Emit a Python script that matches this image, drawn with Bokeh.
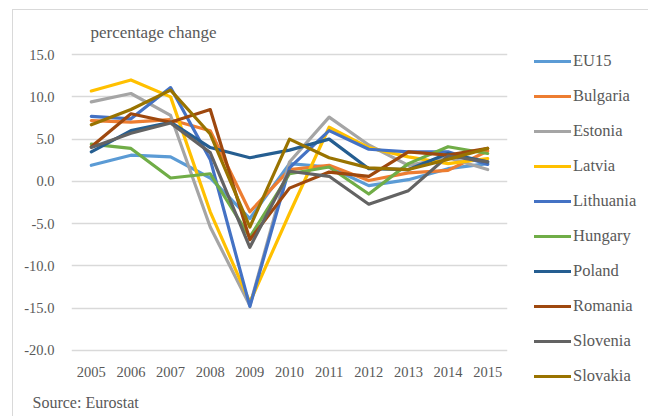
from bokeh.plotting import figure
from bokeh.models import Range1d, FixedTicker, NumeralTickFormatter, Legend, LegendItem, Title
from bokeh.embed import file_html
from bokeh.resources import INLINE

years = ["2005", "2006", "2007", "2008", "2009", "2010", "2011", "2012", "2013", "2014", "2015"]

eu15      = [1.9, 3.1, 2.9, 0.4, -4.4, 2.1, 1.7, -0.5, 0.2, 1.5, 2.1]
bulgaria  = [7.2, 7.0, 7.3, 6.0, -3.6, 1.4, 1.9, 0.1, 1.0, 1.3, 3.6]
estonia   = [9.4, 10.4, 7.8, -5.4, -14.7, 2.3, 7.6, 4.3, 1.9, 2.8, 1.4]
latvia    = [10.7, 12.0, 10.0, -3.6, -14.3, -3.8, 6.4, 4.0, 2.9, 2.1, 2.7]
lithuania = [7.7, 7.4, 11.1, 2.6, -14.8, 1.6, 6.0, 3.8, 3.5, 3.5, 2.0]
hungary   = [4.4, 3.9, 0.4, 0.9, -6.6, 0.9, 1.7, -1.5, 2.1, 4.1, 3.3]
poland    = [3.5, 6.0, 7.0, 4.0, 2.8, 3.7, 5.0, 1.5, 1.4, 3.3, 2.3]
romania   = [4.1, 8.0, 7.0, 8.5, -6.9, -0.8, 1.1, 0.6, 3.5, 3.1, 3.9]
slovenia  = [4.0, 5.7, 6.9, 3.4, -7.8, 1.2, 0.6, -2.7, -1.1, 3.0, 2.3]
slovakia  = [6.7, 8.5, 10.8, 5.6, -5.4, 5.0, 2.8, 1.6, 1.4, 2.6, 3.9]

series_names = ["EU15", "Bulgaria", "Estonia", "Latvia", "Lithuania", "Hungary",
                "Poland", "Romania", "Slovenia", "Slovakia"]
series_values = [eu15, bulgaria, estonia, latvia, lithuania, hungary,
                 poland, romania, slovenia, slovakia]
colors = ["#5B9BD5", "#ED7D31", "#A5A5A5", "#FFC000", "#4472C4", "#70AD47",
          "#255E91", "#9E480E", "#636363", "#997300"]

y_ticks = [-20, -15, -10, -5, 0, 5, 10, 15]

FONT = "Liberation Serif"
GRAY = "#595959"

p = figure(frame_width=436, frame_height=300, x_range=years, y_range=Range1d(-20.25, 15.25),
           output_backend="svg", toolbar_location=None,
           min_border_left=58, min_border_right=122, min_border_top=41, min_border_bottom=40,
           styles={"margin-left": "12px", "margin-top": "9px",
                   "border-left": "1px solid #d9d9d9", "border-top": "1px solid #d9d9d9"})

p.outline_line_color = None
p.xgrid.grid_line_color = None
p.ygrid.grid_line_color = "#d9d9d9"
p.ygrid.grid_line_width = 1.5
p.ygrid.ticker = FixedTicker(ticks=y_ticks)

p.yaxis.ticker = FixedTicker(ticks=y_ticks)
p.yaxis.formatter = NumeralTickFormatter(format="0.0")
for ax in (p.xaxis[0], p.yaxis[0]):
    ax.axis_line_color = None
    ax.major_tick_line_color = None
    ax.minor_tick_line_color = None
    ax.major_label_text_font = FONT
    ax.major_label_text_font_size = "14.5px"
    ax.major_label_text_color = GRAY
p.yaxis.major_label_standoff = 11
p.xaxis.major_label_standoff = 8

items = []
for name, vals, col in zip(series_names, series_values, colors):
    r = p.line(years, vals, line_color=col, line_width=3.2, line_join="round", line_cap="round")
    items.append(LegendItem(label=name, renderers=[r]))

legend = Legend(items=items, location=(27, -34), orientation="vertical",
                padding=0, margin=0, spacing=15, glyph_width=37, glyph_height=20,
                label_height=20, label_standoff=2,
                label_text_font=FONT, label_text_font_size="16.5px",
                label_text_color=GRAY, border_line_color=None,
                background_fill_alpha=0)
p.add_layout(legend, "right")

p.add_layout(Title(text="percentage change", align="left", offset=19, standoff=21,
                   text_font=FONT, text_font_size="17px", text_font_style="normal",
                   text_color=GRAY), "above")
p.add_layout(Title(text="Source: Eurostat", align="left", offset=-39, standoff=24,
                   text_font=FONT, text_font_size="16px", text_font_style="normal",
                   text_color=GRAY), "below")

open("out.html", "w").write(file_html(p, INLINE))
